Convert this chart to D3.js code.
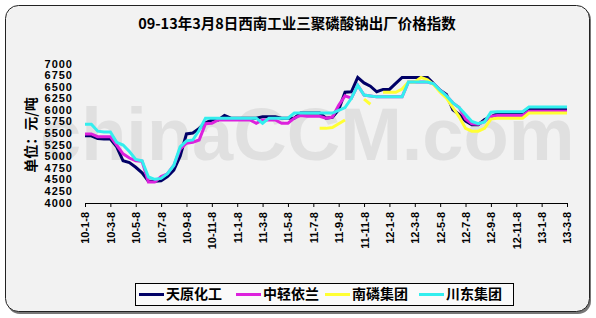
<!DOCTYPE html>
<html><head><meta charset="utf-8">
<script src="https://cdn.jsdelivr.net/npm/d3@7"></script>
<style>
html,body{margin:0;padding:0;background:#fff;}
svg{display:block;}
</style></head>
<body>
<svg id="c" width="596" height="318"></svg>
<script>
// x tick labels (every 2 months); data sampled twice a month (4 samples per tick interval)
const tickLabels = ["10-1-8","10-3-8","10-5-8","10-7-8","10-9-8","10-11-8","11-1-8","11-3-8","11-5-8","11-7-8",
  "11-9-8","11-11-8","12-1-8","12-3-8","12-5-8","12-7-8","12-9-8","12-11-8","13-1-8","13-3-8"];
const seriesNames = ["天原化工","中轻依兰","南磷集团","川东集团"];
const seriesColors = ["#000066","#dd22dd","#ffff33","#33eeee"];

const tianyuan = [5440,5440,5380,5370,5370, 5200,4900,4860,4760,4640, 4460,4460,4470,4560,4700,
  5000,5480,5500,5600,5720, 5780,5780,5880,5820,5820, 5820,5820,5820,5850,5850,
  5850,5820,5820,5820,5930, 5930,5930,5930,5820,5840, 6000,6380,6390,6700,6580,
  6510,6390,6440,6440,6570, 6700,6700,6700,6700,6700, 6560,6420,6330,6000,5900,
  5760,5680,5680,5790,5850, 5920,5920,5920,5920,5920, 6010,6010,6010,6010,6010,6010,6010];
const zhongqing = [5480,5480,5420,5420,5420, 5240,5050,4960,4900,4890, 4440,4440,4560,4620,4800,
  5150,5280,5300,5350,5700, 5710,5780,5780,5780,5780, 5780,5780,5710,5780,5780,
  5780,5710,5710,5820,5880, 5860,5860,5860,5820,5840, 6100,6300,6250,6530,6320,
  6300,6280,6280,6280,6280, 6280,6600,6600,6600,6600, 6560,6420,6300,6150,6050,
  5800,5700,5690,5750,5860, 5880,5880,5880,5880,5880, 5970,5970,5970,5970,5970,5970,5970];
const nanlin = [null,null,null,null,null, null,null,null,null,null, null,null,null,null,null,
  null,null,null,null,null, null,null,null,null,null, null,null,null,null,null,
  null,null,null,null,null, null,null,5600,5600,5620, 5700,5780,null,null,6230,
  6120,null,6380,6380,6380, 6450,6600,6600,6700,6650, 6540,6380,6250,6050,5850,
  5600,5540,5540,5600,5800, 5820,5820,5820,5820,5820, 5930,5930,5930,5930,5930,5930,5930];
const chuandong = [5690,5690,5540,5520,5520, 5300,5240,5100,4930,4900, 4550,4500,4520,4620,4800,
  5200,5330,5350,5560,5820, 5820,5820,5820,5820,5820, 5820,5820,5820,5710,5820,
  5820,5820,5820,5930,5930, 5930,5930,5930,5930,5930, 5990,6050,6250,6530,6320,
  6300,6280,6280,6280,6280, 6280,6600,6600,6600,6600, 6560,6420,6300,6150,6050,
  5900,5750,5700,5740,5950, 5960,5960,5960,5960,5960, 6060,6060,6060,6060,6060,6060,6060];
const yTicks = [4000,4250,4500,4750,5000,5250,5500,5750,6000,6250,6500,6750,7000];

const svg = d3.select("#c");
const seriesData = [tianyuan, zhongqing, nanlin, chuandong];

// panel with shadow
svg.append("rect").attr("x",7).attr("y",7).attr("width",584).attr("height",307).attr("rx",13).attr("fill","#777");
svg.append("rect").attr("x",5.5).attr("y",5.5).attr("width",584).attr("height",306).attr("rx",13)
  .attr("fill","#f2f2f2").attr("stroke","#222").attr("stroke-width",1);

// watermark
svg.append("text").attr("x",40).attr("y",160)
  .attr("font-family","Liberation Sans, Arial").attr("font-weight","bold").attr("font-size",74)
  .attr("fill","#e0e0e0").text("chinaCCM.com");

// title
svg.append("text").attr("x",297).attr("y",29).attr("text-anchor","middle")
  .attr("font-family","Noto Sans CJK SC").attr("font-weight","bold").attr("font-size",14.5)
  .attr("fill","#000").text("09-13年3月8日西南工业三聚磷酸钠出厂价格指数");

const n = tianyuan.length;
const x = d3.scaleLinear().domain([0, n-1]).range([85, 567]);
const y = d3.scaleLinear().domain([4000, 7000]).range([202.5, 63.5]);

// y axis labels
const ya = svg.append("g").attr("transform","translate(85,0)")
  .call(d3.axisLeft(y).tickValues(yTicks).tickSize(0).tickPadding(12).tickFormat(d3.format("d")));
ya.select(".domain").remove();
ya.selectAll("text").attr("font-family","Liberation Sans, Arial").attr("font-weight","bold")
  .attr("font-size",11).attr("letter-spacing","1px").attr("fill","#000");

// x axis
const xa = svg.append("g").attr("transform","translate(0,203)")
  .call(d3.axisBottom(x).tickValues(d3.range(0, n, 4)).tickFormat((d,i)=>tickLabels[i]).tickSize(4).tickSizeOuter(0));
xa.select(".domain").attr("stroke","#000");
xa.selectAll(".tick line").attr("stroke","#000");
xa.selectAll("text").attr("font-family","Liberation Sans, Arial").attr("font-weight","bold")
  .attr("font-size",11).attr("fill","#000")
  .attr("transform","rotate(-90)").attr("text-anchor","end").attr("x",-9).attr("y",0).attr("dy","0.36em");

// y title
svg.append("text").attr("transform","translate(31,135) rotate(-90)").attr("text-anchor","middle")
  .attr("dy","0.35em").attr("font-family","Noto Sans CJK SC").attr("font-weight","bold").attr("font-size",14)
  .text("单位：元/吨");

// lines
const line = d3.line().defined(d=>d!=null).x((d,i)=>x(i)).y(d=>y(d));
seriesData.forEach((s,k)=>{
  svg.append("path").datum(s).attr("d", line).attr("fill","none")
    .attr("stroke", seriesColors[k]).attr("stroke-width",3).attr("stroke-linejoin","miter");
});

// legend
const lg = svg.append("g");
lg.append("rect").attr("x",135.5).attr("y",283.5).attr("width",378).attr("height",22)
  .attr("fill","#fafafa").attr("stroke","#000").attr("stroke-width",1);
const itemX = [139, 236, 325, 419];
seriesNames.forEach((nm,k)=>{
  lg.append("line").attr("x1",itemX[k]).attr("x2",itemX[k]+25).attr("y1",294.5).attr("y2",294.5)
    .attr("stroke",seriesColors[k]).attr("stroke-width",3);
  lg.append("text").attr("x",itemX[k]+27).attr("y",294.5).attr("dy","0.35em")
    .attr("font-family","Noto Sans CJK SC").attr("font-weight","bold").attr("font-size",14).text(nm);
});
</script>
</body></html>
